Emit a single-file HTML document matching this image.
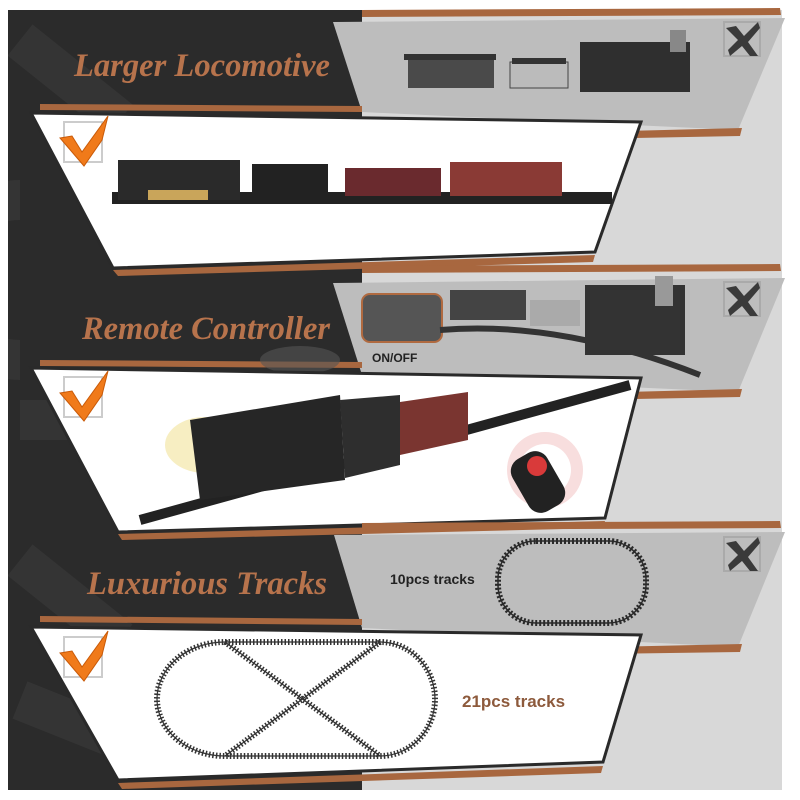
<!DOCTYPE html>
<html><head><meta charset="utf-8"><style>
html,body{margin:0;padding:0;background:#fff}
svg{display:block}
.t{font-family:"Liberation Serif",serif;font-weight:bold;font-style:italic;fill:#b7734c;font-size:33px}
.s{font-family:"Liberation Sans",sans-serif;font-weight:bold}
</style></head><body>
<svg width="800" height="800" viewBox="0 0 800 800" xmlns="http://www.w3.org/2000/svg">
<defs>
<g id="chk"><rect x="0" y="0" width="38" height="40" fill="#fff" stroke="#ccc" stroke-width="2"/>
<path d="M-4,16 L8,14 L18,30 L44,-6 L38,18 L20,44 Z" fill="#f07a1a" stroke="#c95a08" stroke-width="1"/></g>
<g id="xb"><rect x="0" y="0" width="36" height="34" fill="none" stroke="#aaa" stroke-width="2"/>
<path d="M2,6 L12,4 L20,14 L34,0 L36,6 L24,20 L34,34 L26,34 L18,24 L6,34 L4,28 L14,18 Z" fill="#3a3a3a"/></g>
<clipPath id="dk"><rect x="8" y="10" width="354" height="780"/></clipPath>
</defs>
<rect x="8" y="10" width="354" height="780" fill="#2b2b2b"/>
<rect x="362" y="10" width="420" height="780" fill="#d8d8d8"/>
<g clip-path="url(#dk)" fill="none" stroke="#343434" stroke-width="40">
<path d="M20,40 L120,120 M20,200 A80,80 0 1 0 20,360 M20,420 L120,420 M20,560 L120,640 M20,700 L120,740"/>
</g>

<!-- Section 1 -->
<polygon points="362,10 780,8 781,15 362,17" fill="#a8673f"/>
<polygon points="333,22 785,18 738,130 362,112" fill="#bdbdbd"/>
<polygon points="470,135 742,128 740,136 470,141" fill="#a8673f"/>
<polygon points="40,104 362,106 362,112 40,110" fill="#a8673f"/>
<polygon points="31,113 641,122 595,252 113,268" fill="#fff" stroke="#2a2a2a" stroke-width="3"/>
<polygon points="113,270 595,255 593,262 118,276" fill="#a8673f"/>
<text class="t" x="74" y="76" textLength="256" lengthAdjust="spacingAndGlyphs">Larger Locomotive</text>
<use href="#xb" x="724" y="22"/>
<use href="#chk" x="64" y="122"/>
<rect x="408" y="58" width="86" height="30" fill="#4a4a4a"/><rect x="404" y="54" width="92" height="6" fill="#333"/>
<rect x="510" y="62" width="58" height="26" fill="#bbb" stroke="#444"/><rect x="512" y="58" width="54" height="6" fill="#333"/>
<rect x="580" y="42" width="110" height="50" fill="#2f2f2f"/><rect x="670" y="30" width="16" height="22" fill="#888"/>
<rect x="112" y="192" width="500" height="12" fill="#222"/>
<rect x="118" y="160" width="122" height="40" fill="#2a2a2a"/><rect x="148" y="190" width="60" height="10" fill="#c9a55a"/>
<rect x="252" y="164" width="76" height="36" fill="#222"/>
<rect x="345" y="168" width="96" height="28" fill="#6a2a2e"/>
<rect x="450" y="162" width="112" height="34" fill="#8a3a35"/>

<!-- Section 2 -->
<polygon points="362,266 780,264 781,271 362,273" fill="#a8673f"/>
<polygon points="333,283 785,278 738,392 362,375" fill="#bdbdbd"/>
<polygon points="470,396 742,389 740,397 470,402" fill="#a8673f"/>
<polygon points="40,360 362,362 362,368 40,366" fill="#a8673f"/>
<text class="t" x="82" y="339" textLength="248" lengthAdjust="spacingAndGlyphs">Remote Controller</text>
<use href="#xb" x="724" y="282"/>
<rect x="362" y="294" width="80" height="48" rx="8" fill="#555" stroke="#b06a40" stroke-width="2"/>
<text class="s" x="372" y="362" font-size="12" font-weight="normal" fill="#222">ON/OFF</text>
<path d="M440,330 Q560,320 700,375" stroke="#333" stroke-width="6" fill="none"/>
<rect x="450" y="290" width="76" height="30" fill="#444"/><rect x="530" y="300" width="50" height="26" fill="#aaa"/>
<rect x="585" y="285" width="100" height="70" fill="#333"/><rect x="655" y="276" width="18" height="30" fill="#999"/>
<ellipse cx="300" cy="360" rx="40" ry="14" fill="#555" opacity="0.6"/>
<polygon points="31,368 641,378 605,518 118,532" fill="#fff" stroke="#2a2a2a" stroke-width="3"/>
<polygon points="118,534 605,521 603,528 122,540" fill="#a8673f"/>
<use href="#chk" x="64" y="377"/>
<path d="M140,520 L630,385" stroke="#222" stroke-width="10" fill="none"/>
<ellipse cx="205" cy="445" rx="40" ry="28" fill="#f3e7a8" opacity="0.7"/>
<polygon points="190,420 340,395 345,480 200,500" fill="#262626"/>
<polygon points="340,400 400,395 400,465 345,478" fill="#2e2e2e"/>
<polygon points="400,402 468,392 468,440 400,455" fill="#7a3530"/>
<circle cx="545" cy="470" r="38" fill="#f8dede"/><circle cx="545" cy="470" r="26" fill="#fff"/>
<rect x="518" y="452" width="40" height="60" rx="14" fill="#222" transform="rotate(-30 538 482)"/>
<circle cx="537" cy="466" r="10" fill="#d93a3a"/>

<!-- Section 3 -->
<polygon points="362,523 780,521 781,528 362,530" fill="#a8673f"/>
<polygon points="334,535 785,532 738,647 362,628" fill="#bdbdbd"/>
<polygon points="470,650 742,644 740,652 470,656" fill="#a8673f"/>
<polygon points="40,616 362,619 362,625 40,622" fill="#a8673f"/>
<text class="t" x="87" y="594" textLength="240" lengthAdjust="spacingAndGlyphs">Luxurious Tracks</text>
<use href="#xb" x="724" y="537"/>
<text class="s" x="390" y="584" font-size="14" fill="#222">10pcs tracks</text>
<rect x="498" y="541" width="148" height="82" rx="38" fill="none" stroke="#2a2a2a" stroke-width="6" stroke-dasharray="2 2"/>
<rect x="498" y="541" width="148" height="82" rx="38" fill="none" stroke="#2a2a2a" stroke-width="1.5"/>
<polygon points="31,627 641,635 603,762 118,780" fill="#fff" stroke="#2a2a2a" stroke-width="3"/>
<polygon points="118,783 603,766 601,773 122,789" fill="#a8673f"/>
<use href="#chk" x="64" y="637"/>
<g fill="none" stroke="#333">
<path d="M225,642 L380,642 A55,57 0 0 1 380,756 L225,756 A68,57 0 0 1 225,642 Z" stroke-width="6" stroke-dasharray="1.5 2"/>
<path d="M225,642 L380,642 A55,57 0 0 1 380,756 L225,756 A68,57 0 0 1 225,642 Z" stroke-width="1.2"/>
<path d="M225,642 L380,756 M380,642 L225,756" stroke-width="6" stroke-dasharray="1.5 2"/>
<path d="M225,642 L380,756 M380,642 L225,756" stroke-width="1.2"/>
</g>
<text class="s" x="462" y="707" font-size="17" fill="#8d5a3c">21pcs tracks</text>
</svg>
</body></html>
